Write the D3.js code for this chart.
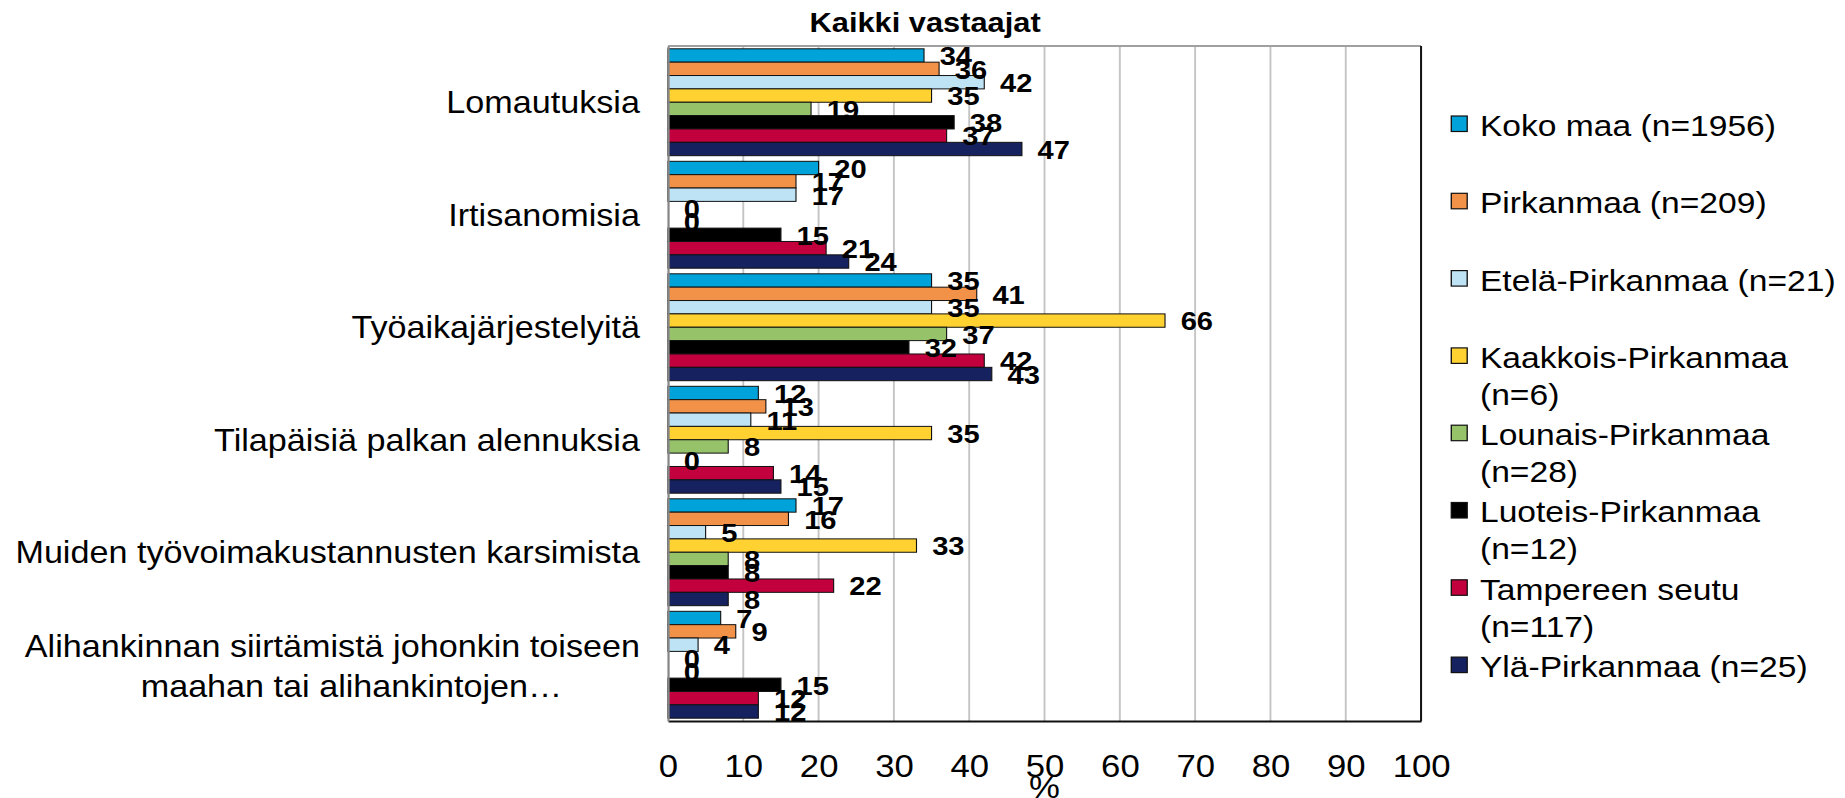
<!DOCTYPE html>
<html>
<head>
<meta charset="utf-8">
<script src="https://cdn.jsdelivr.net/npm/d3@7"></script>
<style>
  body { margin: 0; background: #fff; }
  svg { display: block; font-family: "Liberation Sans", Arial, sans-serif; }
</style>
</head>
<body>
<div id="chart"></div>
<script>
// data
var categories = ["Lomautuksia", "Irtisanomisia", "Työaikajärjestelyitä",
                  "Tilapäisiä palkan alennuksia", "Muiden työvoimakustannusten karsimista",
                  "Alihankinnan siirtämistä johonkin toiseen maahan tai alihankintojen…"];

var seriesNames = ["Koko maa (n=1956)", "Pirkanmaa (n=209)", "Etelä-Pirkanmaa (n=21)",
                   "Kaakkois-Pirkanmaa (n=6)", "Lounais-Pirkanmaa (n=28)", "Luoteis-Pirkanmaa (n=12)",
                   "Tampereen seutu (n=117)", "Ylä-Pirkanmaa (n=25)"];
var seriesColors = ["#00a2da", "#f29249", "#bee3f5", "#ffd232", "#96c26a", "#000000", "#c3003e", "#16215f"];

var kokoMaa           = [34, 20, 35, 12, 17, 7];
var pirkanmaa         = [36, 17, 41, 13, 16, 9];
var etelaPirkanmaa    = [42, 17, 35, 11, 5, 4];
var kaakkoisPirkanmaa = [35, 0, 66, 35, 33, 0];
var lounaisPirkanmaa  = [19, 0, 37, 8, 8, 0];
var luoteisPirkanmaa  = [38, 15, 32, 0, 8, 15];
var tampereenSeutu    = [37, 21, 42, 14, 22, 12];
var ylaPirkanmaa      = [47, 24, 43, 15, 8, 12];
var seriesValues = [kokoMaa, pirkanmaa, etelaPirkanmaa, kaakkoisPirkanmaa,
                    lounaisPirkanmaa, luoteisPirkanmaa, tampereenSeutu, ylaPirkanmaa];

var xTicks = [0, 10, 20, 30, 40, 50, 60, 70, 80, 90, 100];

// the picture is stretched sideways, so draw in a narrower box and stretch it
var stretch = 1.12;
var full_width = 1845, full_height = 798;
var vw = full_width / stretch;
var plot = {left: 596.4, right: 1268.8, top: 46, bottom: 721};

var svg = d3.select("#chart").append("svg")
    .attr("width", full_width)
    .attr("height", full_height)
    .attr("viewBox", "0 0 " + vw + " " + full_height)
    .attr("preserveAspectRatio", "none");

var x = d3.scaleLinear().domain([0, 100]).range([plot.left, plot.right]);
var y0 = d3.scaleBand().domain(categories).range([plot.top, plot.bottom]);
var y1 = d3.scaleBand().domain(seriesNames).range([0, y0.bandwidth()]).paddingOuter(0.21);

// gridlines
svg.append("g").attr("class", "grid")
   .selectAll("line")
   .data(xTicks.filter(function(t){ return t > 0 && t < 100; }))
   .join("line")
   .attr("x1", function(d){ return x(d); })
   .attr("x2", function(d){ return x(d); })
   .attr("y1", plot.top)
   .attr("y2", plot.bottom)
   .attr("stroke", "#c4c4c4")
   .attr("stroke-width", 1.7);

// bars
var rows = [];
categories.forEach(function(c, ci){
  seriesNames.forEach(function(s, si){
    rows.push({cat: c, series: s, color: seriesColors[si], value: seriesValues[si][ci]});
  });
});

svg.append("g").attr("class", "bars")
   .selectAll("rect")
   .data(rows.filter(function(d){ return d.value > 0; }))
   .join("rect")
   .attr("x", x(0))
   .attr("y", function(d){ return y0(d.cat) + y1(d.series); })
   .attr("width", function(d){ return x(d.value) - x(0); })
   .attr("height", y1.bandwidth())
   .attr("fill", function(d){ return d.color; })
   .attr("stroke", "#111")
   .attr("stroke-width", 1);

// plot frame: top grey, right black
svg.append("line")
   .attr("x1", plot.left).attr("x2", plot.right)
   .attr("y1", plot.top).attr("y2", plot.top)
   .attr("stroke", "#a0a0a0").attr("stroke-width", 2);
svg.append("line")
   .attr("x1", plot.right).attr("x2", plot.right)
   .attr("y1", plot.top).attr("y2", plot.bottom)
   .attr("stroke", "#111").attr("stroke-width", 1.8);

// x axis
var xAxis = svg.append("g")
   .attr("transform", "translate(0," + plot.bottom + ")")
   .call(d3.axisBottom(x).tickValues(xTicks).tickSize(0).tickPadding(34));
xAxis.select(".domain").attr("stroke", "#111").attr("stroke-width", 2.2);
xAxis.selectAll("text")
   .attr("fill", "#000")
   .style("font-family", "'Liberation Sans', Arial, sans-serif")
   .style("font-size", "31px");

// y axis line only
var yAxis = svg.append("g")
   .attr("transform", "translate(" + plot.left + ",0)")
   .call(d3.axisLeft(y0).tickSize(0).tickFormat(""));
yAxis.select(".domain").attr("stroke", "#868686").attr("stroke-width", 2);

// category labels, wrapped
function wrapWords(textSel, str, maxWidth){
  var words = str.split(" "), lines = [], line = [];
  words.forEach(function(w){
    line.push(w);
    textSel.text(line.join(" "));
    if (textSel.node().getComputedTextLength() > maxWidth && line.length > 1) {
      line.pop();
      lines.push(line.join(" "));
      line = [w];
    }
  });
  lines.push(line.join(" "));
  textSel.text(null);
  return lines;
}

var labelRight = 571.4;
var catFont = 30.5;
var catLabels = svg.append("g").attr("class", "cat-labels")
   .style("font-size", catFont + "px");

categories.forEach(function(c){
  var t = catLabels.append("text").attr("fill", "#000");
  var lines = wrapWords(t, c, 575);
  var cy = y0(c) + y0.bandwidth() / 2;
  var base = cy + catFont * 0.36;
  if (lines.length == 1) {
    t.attr("x", labelRight).attr("y", base).attr("text-anchor", "end").text(lines[0]);
  } else {
    var lh = 40;
    t.text(lines[0]);
    var w0 = t.node().getComputedTextLength();
    t.text(null);
    var mid = labelRight - w0 / 2;
    lines.forEach(function(l, i){
      t.append("tspan")
       .attr("x", i == 0 ? mid : mid + 17)
       .attr("y", base + 1 + (i - (lines.length - 1) / 2) * lh)
       .attr("text-anchor", "middle")
       .text(l);
    });
  }
});

// data labels
svg.append("g").attr("class", "value-labels")
   .selectAll("text")
   .data(rows)
   .join("text")
   .attr("x", function(d){ return x(d.value) + 14; })
   .attr("y", function(d){ return y0(d.cat) + y1(d.series) + y1.bandwidth() / 2 + 9.8; })
   .attr("font-size", "26px")
   .attr("font-weight", "bold")
   .attr("fill", "#000")
   .text(function(d){ return d.value; });

// title
svg.append("text")
   .attr("x", 826)
   .attr("y", 31.7)
   .attr("text-anchor", "middle")
   .attr("font-size", "27.5px")
   .attr("font-weight", "bold")
   .text("Kaikki vastaajat");

// axis title
svg.append("text")
   .attr("x", (plot.left + plot.right) / 2)
   .attr("y", 798)
   .attr("text-anchor", "middle")
   .attr("font-size", "31px")
   .text("%");

// legend
var legendX = 1321.4, legendTop = 136, legendStep = 77.3, legendLine = 37;
var legend = svg.append("g").attr("class", "legend").style("font-size", "30px");
seriesNames.forEach(function(s, i){
  var base = legendTop + i * legendStep;
  legend.append("rect")
     .attr("x", 1295.8).attr("y", base - 20)
     .attr("width", 14.2).attr("height", 15.5)
     .attr("fill", seriesColors[i])
     .attr("stroke", "#111").attr("stroke-width", 1.2);
  var t = legend.append("text").attr("fill", "#000");
  var lines = wrapWords(t, s, vw - legendX - 2);
  lines.forEach(function(l, k){
    t.append("tspan").attr("x", legendX).attr("y", base + k * legendLine).text(l);
  });
});
</script>
</body>
</html>
